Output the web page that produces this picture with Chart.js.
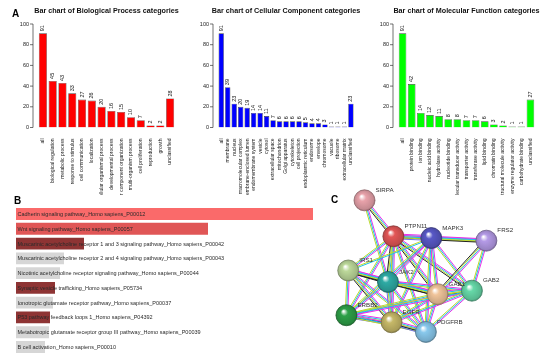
<!DOCTYPE html>
<html>
<head>
<meta charset="utf-8">
<script src="https://cdn.jsdelivr.net/npm/chart.js@4.4.1/dist/chart.umd.min.js"></script>
<style>
    body { margin: 0; width: 550px; height: 359px; background: #fff; position: relative; overflow: hidden; font-family: "Liberation Sans", Arial, sans-serif; }
    canvas { position: absolute; }
    .letra { position: absolute; font-weight: bold; font-size: 10px; line-height: 1; color: #000; }
</style>
</head>
<body>
<canvas id="graficoBP" width="180" height="195" style="left:0;top:0"></canvas>
<canvas id="graficoCC" width="180" height="195" style="left:180px;top:0"></canvas>
<canvas id="graficoMF" width="180" height="195" style="left:360px;top:0"></canvas>
<canvas id="graficoVias" width="320" height="159" style="left:0;top:200px"></canvas>
<canvas id="graficoRede" width="232" height="184" style="left:318px;top:175px"></canvas>
<div class="letra" style="left:12px;top:9px">A</div>
<div class="letra" style="left:14px;top:196px">B</div>
<div class="letra" style="left:331px;top:195px">C</div>
<script>
// ---- dados ----
const bpLabels = ["all", "biological regulation", "metabolic process", "response to stimulus", "cell communication", "localization",
    "multicellular organismal process", "developmental process", "cellular component organization", "multi-organism process",
    "cell proliferation", "reproduction", "growth", "unclassified"];
const bpValores = [91, 45, 43, 33, 27, 26, 20, 16, 15, 10, 7, 2, 2, 28];

const ccLabels = ["all", "membrane", "nucleus", "macromolecular complex", "membrane-enclosed lumen", "endomembrane system", "vesicle",
    "cytosol", "extracellular space", "mitochondrion", "Golgi apparatus", "cytoskeleton", "cell projection", "endoplasmic reticulum",
    "endosome", "envelope", "chromosome", "vacuole", "ribosome", "extracellular matrix", "unclassified"];
const ccValores = [91, 39, 23, 20, 19, 14, 14, 11, 7, 6, 6, 6, 6, 5, 4, 4, 3, 1, 1, 1, 23];

const mfLabels = ["all", "protein binding", "ion binding", "nucleic acid binding", "hydrolase activity", "nucleotide binding",
    "molecular transducer activity", "transporter activity", "transferase activity", "lipid binding", "chromatin binding",
    "structural molecule activity", "enzyme regulator activity", "carbohydrate binding", "unclassified"];
const mfValores = [91, 42, 14, 12, 11, 8, 8, 7, 7, 6, 3, 2, 1, 1, 27];

const viasLabels = ["Cadherin signaling pathway_Homo sapiens_P00012", "Wnt signaling pathway_Homo sapiens_P00057",
    "Muscarinic acetylcholine receptor 1 and 3 signaling pathway_Homo sapiens_P00042",
    "Muscarinic acetylcholine receptor 2 and 4 signaling pathway_Homo sapiens_P00043",
    "Nicotinic acetylcholine receptor signaling pathway_Homo sapiens_P00044",
    "Synaptic vesicle trafficking_Homo sapiens_P05734", "Ionotropic glutamate receptor pathway_Homo sapiens_P00037",
    "P53 pathway feedback loops 1_Homo sapiens_P04392", "Metabotropic glutamate receptor group III pathway_Homo sapiens_P00039",
    "B cell activation_Homo sapiens_P00010"];
const viasScores = [29.7, 19.2, 6.8, 4.8, 4.4, 3.9, 3.7, 3.4, 3.3, 2.9];
const viasCores = ["#fa6a6a", "#e05656", "#8e3434", "#d6d6d6", "#d6d6d6", "#8e3434", "#d6d6d6", "#8e3434", "#d6d6d6", "#d6d6d6"];

const genes = ["SIRPA", "PTPN11", "MAPK3", "FRS2", "IRS1", "JAK2", "GAB1", "GAB2", "ERBB2", "EGFR", "PDGFRB"];
const genesX = [39, 71, 113, 174, 21, 65, 120, 158, 19, 69, 107];
const genesY = [16, 57, 59, 62, 96, 109, 123, 119, 147, 155, 166];
const genesCores = ["#e8a2aa", "#e25656", "#5858c6", "#b49ae6", "#bcd89a", "#2eaaa4", "#f0c49a", "#66d8a8", "#2ea048", "#c6b868", "#88c8ec"];
// pares de genes e evidencias (m experimental, c base curada, y textmining, k coexpressao, h homologia)
const interacoes = [
    ["SIRPA", "PTPN11", "mcyk"], ["SIRPA", "JAK2", "mcy"],
    ["PTPN11", "MAPK3", "mcykh"], ["PTPN11", "FRS2", "mcy"], ["PTPN11", "IRS1", "mcy"], ["PTPN11", "JAK2", "mcyk"],
    ["PTPN11", "GAB1", "mcyk"], ["PTPN11", "GAB2", "mcyk"], ["PTPN11", "ERBB2", "mcy"], ["PTPN11", "EGFR", "mcy"], ["PTPN11", "PDGFRB", "mcy"],
    ["MAPK3", "FRS2", "mcyk"], ["MAPK3", "IRS1", "cy"], ["MAPK3", "JAK2", "mcy"], ["MAPK3", "GAB1", "mcy"], ["MAPK3", "GAB2", "mcy"],
    ["MAPK3", "ERBB2", "mcy"], ["MAPK3", "EGFR", "mcy"], ["MAPK3", "PDGFRB", "mcy"],
    ["FRS2", "GAB1", "mcyk"], ["FRS2", "GAB2", "mcy"],
    ["IRS1", "JAK2", "mcyk"], ["IRS1", "GAB1", "mcyk"], ["IRS1", "ERBB2", "mcy"], ["IRS1", "EGFR", "mcyk"], ["IRS1", "PDGFRB", "mcy"],
    ["JAK2", "GAB1", "mcyk"], ["JAK2", "GAB2", "mcy"], ["JAK2", "ERBB2", "mcy"], ["JAK2", "EGFR", "mcyh"], ["JAK2", "PDGFRB", "mcy"],
    ["GAB1", "GAB2", "mcykh"], ["GAB1", "ERBB2", "mcy"], ["GAB1", "EGFR", "mcy"], ["GAB1", "PDGFRB", "mcy"],
    ["GAB2", "ERBB2", "mcy"], ["GAB2", "EGFR", "mcy"], ["GAB2", "PDGFRB", "mcy"],
    ["ERBB2", "EGFR", "mcykh"], ["ERBB2", "PDGFRB", "mcy"], ["EGFR", "PDGFRB", "mcykh"]
];

const FONTE = "'Liberation Sans', Arial, sans-serif";

// ---- painel A ----
const eixoR = {
    id: "eixoR",
    afterDraw(chart, args, opts) {
        const { ctx, chartArea, scales } = chart;
        const y = scales.y;
        const x0 = chartArea.left - 5;
        ctx.save();
        ctx.strokeStyle = "#333";
        ctx.lineWidth = 0.7;
        ctx.beginPath();
        ctx.moveTo(x0, y.getPixelForValue(0));
        ctx.lineTo(x0, y.getPixelForValue(100));
        y.ticks.forEach((t) => {
            const py = y.getPixelForValue(t.value);
            ctx.moveTo(x0, py);
            ctx.lineTo(x0 - 3, py);
        });
        ctx.stroke();

        ctx.fillStyle = "#111";
        ctx.font = "bold 7.2px " + FONTE;
        ctx.textAlign = "center";
        ctx.textBaseline = "middle";
        ctx.fillText(opts.titulo, (chartArea.left + chartArea.right) / 2, 11);

        ctx.font = "5.5px " + FONTE;
        ctx.textAlign = "left";
        const valores = chart.data.datasets[0].data;
        chart.getDatasetMeta(0).data.forEach((barra, i) => {
            ctx.save();
            ctx.translate(barra.x, barra.y - 2);
            ctx.rotate(-Math.PI / 2);
            ctx.fillText(String(valores[i]), 0, 0);
            ctx.restore();
        });
        ctx.restore();
    },
};

function criarGraficoGO(id, titulo, labels, valores, cor) {
    return new Chart(document.getElementById(id), {
        type: "bar",
        data: {
            labels: labels,
            datasets: [
                {
                    data: valores,
                    backgroundColor: cor,
                    borderColor: "#444",
                    borderWidth: 0.6,
                    barPercentage: 1,
                    categoryPercentage: 0.83,
                },
            ],
        },
        options: {
            responsive: false,
            animation: false,
            layout: { padding: { top: 24, right: 5, left: 0, bottom: 0 } },
            scales: {
                x: {
                    grid: { display: false },
                    border: { display: false },
                    ticks: { autoSkip: false, maxRotation: 90, minRotation: 90, padding: 3, color: "#222", font: { size: 5, family: FONTE } },
                    afterFit: (s) => { s.height = 67.5; },
                },
                y: {
                    min: 0,
                    max: 100,
                    grid: { display: false, drawTicks: false },
                    border: { display: false },
                    ticks: { stepSize: 20, padding: 9, color: "#222", font: { size: 5.5, family: FONTE } },
                    afterFit: (s) => { s.width = 38; },
                },
            },
            plugins: { legend: { display: false }, tooltip: { enabled: false }, eixoR: { titulo: titulo } },
        },
        plugins: [eixoR],
    });
}

criarGraficoGO("graficoBP", "Bar chart of Biological Process categories", bpLabels, bpValores, "#ff0000");
criarGraficoGO("graficoCC", "Bar chart of Cellular Component categories", ccLabels, ccValores, "#0000ff");
criarGraficoGO("graficoMF", "Bar chart of Molecular Function categories", mfLabels, mfValores, "#00ff00");

// ---- painel B ----
const textoVias = {
    id: "textoVias",
    afterDatasetsDraw(chart) {
        const { ctx, chartArea } = chart;
        ctx.save();
        ctx.fillStyle = "#2a2a2a";
        ctx.font = "5.5px " + FONTE;
        ctx.textBaseline = "middle";
        chart.getDatasetMeta(0).data.forEach((barra, i) => {
            ctx.fillText(chart.data.labels[i], chartArea.left + 1.5, barra.y + 0.5);
        });
        ctx.restore();
    },
};

new Chart(document.getElementById("graficoVias"), {
    type: "bar",
    data: {
        labels: viasLabels,
        datasets: [{ data: viasScores, backgroundColor: viasCores, barPercentage: 0.8, categoryPercentage: 1 }],
    },
    options: {
        indexAxis: "y",
        responsive: false,
        animation: false,
        layout: { padding: { left: 16, right: 7, top: 6.6, bottom: 4.6 } },
        scales: {
            x: { display: false, min: 0, max: 29.7 },
            y: { display: false },
        },
        plugins: { legend: { display: false }, tooltip: { enabled: false } },
    },
    plugins: [textoVias],
});

// ---- painel C ----
const coresEvidencia = { m: "#e830e8", c: "#1cc0ec", y: "#bcd82c", k: "#222222", h: "#6c6ce8" };

function escurecer(hex, f) {
    const n = parseInt(hex.slice(1), 16);
    const r = Math.round(((n >> 16) & 255) * f), g = Math.round(((n >> 8) & 255) * f), b = Math.round((n & 255) * f);
    return "rgb(" + r + "," + g + "," + b + ")";
}

const arestas = {
    id: "arestas",
    beforeDatasetsDraw(chart) {
        const { ctx, scales } = chart;
        ctx.save();
        ctx.lineWidth = 1;
        interacoes.forEach(([a, b, ev]) => {
            const i = genes.indexOf(a), j = genes.indexOf(b);
            const x1 = scales.x.getPixelForValue(genesX[i]), y1 = scales.y.getPixelForValue(genesY[i]);
            const x2 = scales.x.getPixelForValue(genesX[j]), y2 = scales.y.getPixelForValue(genesY[j]);
            const len = Math.hypot(x2 - x1, y2 - y1);
            const nx = -(y2 - y1) / len, ny = (x2 - x1) / len;
            ev.split("").forEach((e, k) => {
                const d = (k - (ev.length - 1) / 2) * 1.2;
                ctx.strokeStyle = coresEvidencia[e];
                ctx.beginPath();
                ctx.moveTo(x1 + nx * d, y1 + ny * d);
                ctx.lineTo(x2 + nx * d, y2 + ny * d);
                ctx.stroke();
            });
        });
        ctx.restore();
    },
    afterDatasetsDraw(chart) {
        const { ctx, scales } = chart;
        ctx.save();
        ctx.fillStyle = "#333";
        ctx.font = "6.2px " + FONTE;
        ctx.textBaseline = "middle";
        genes.forEach((nome, i) => {
            ctx.fillText(nome, scales.x.getPixelForValue(genesX[i]) + 11, scales.y.getPixelForValue(genesY[i]) - 10);
        });
        ctx.restore();
    },
};

new Chart(document.getElementById("graficoRede"), {
    type: "scatter",
    data: {
        datasets: [
            {
                data: genes.map((g, i) => ({ x: genesX[i], y: genesY[i] })),
                pointRadius: 10.5,
                pointBorderWidth: 0.8,
                pointBorderColor: (c) => escurecer(genesCores[c.dataIndex], 0.6),
                pointBackgroundColor: (c) => {
                    const chart = c.chart;
                    const cor = genesCores[c.dataIndex];
                    if (!chart.chartArea || !c.raw) return cor;
                    const px = chart.scales.x.getPixelForValue(c.raw.x);
                    const py = chart.scales.y.getPixelForValue(c.raw.y);
                    const g = chart.ctx.createRadialGradient(px - 3, py - 4, 0.5, px, py, 11);
                    g.addColorStop(0, "#ffffff");
                    g.addColorStop(0.3, cor);
                    g.addColorStop(0.85, escurecer(cor, 0.85));
                    g.addColorStop(1, escurecer(cor, 0.6));
                    return g;
                },
                clip: false,
            },
        ],
    },
    options: {
        responsive: false,
        animation: false,
        layout: { padding: 0 },
        scales: {
            x: { display: false, min: 0, max: 232 },
            y: { display: false, min: 0, max: 184, reverse: true },
        },
        plugins: { legend: { display: false }, tooltip: { enabled: false } },
    },
    plugins: [arestas],
});
</script>
</body>
</html>
